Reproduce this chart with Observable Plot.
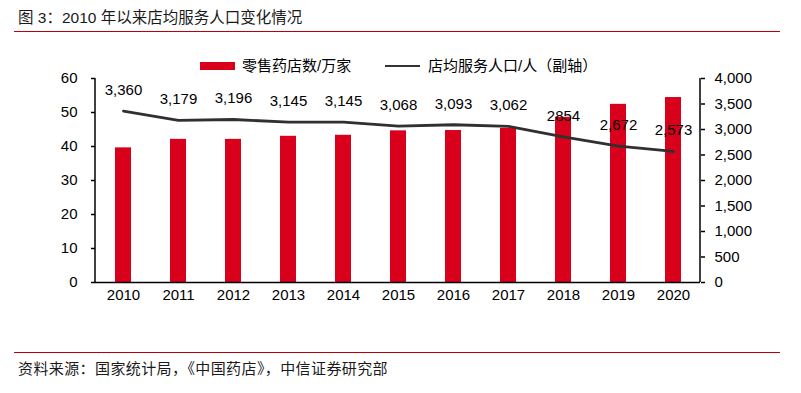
<!DOCTYPE html>
<html><head><meta charset="utf-8">
<script src="https://cdn.jsdelivr.net/npm/d3@7"></script>
<script src="https://cdn.jsdelivr.net/npm/@observablehq/plot@0.6"></script>
<style>
body{margin:0;background:#fff;}
#wrap{position:relative;width:801px;height:393px;font-family:"Liberation Sans","Noto Sans CJK SC",sans-serif;color:#000;overflow:hidden;}
.abs{position:absolute;white-space:nowrap;}
#title{left:18px;top:8px;font-size:15.5px;line-height:20px;color:#1a1a1a;font-family:"Liberation Sans","Noto Sans CJK SC",sans-serif;}
.rule{left:14px;width:766px;height:1px;background:#b8000f;}
#chart{position:absolute;left:0;top:40px;}
.leg{font-size:15px;line-height:20px;font-family:"Liberation Sans","Noto Sans CJK SC",sans-serif;}
#foot{left:18px;top:358px;font-size:15px;line-height:20px;color:#1a1a1a;font-family:"Noto Sans CJK SC","Liberation Sans",sans-serif;letter-spacing:0.4px;}
</style></head>
<body><div id="wrap">
<div id="title" class="abs">图 3：2010 年以来店均服务人口变化情况</div>
<div class="abs rule" style="top:31px"></div>
<div id="chart"></div>
<div class="abs" style="left:200px;top:62px;width:35px;height:8px;background:#d9001b"></div>
<div class="abs leg" style="left:242px;top:56px">零售药店数/万家</div>
<div class="abs" style="left:385px;top:65px;width:35px;height:2px;background:#333"></div>
<div class="abs leg" style="left:428px;top:56px">店均服务人口/人（副轴）</div>
<div class="abs rule" style="top:352px"></div>
<div id="foot" class="abs">资料来源：国家统计局，《中国药店》，中信证券研究部</div>
</div>
<script>
const years = ["2010","2011","2012","2013","2014","2015","2016","2017","2018","2019","2020"];
const stores = [39.6, 42.1, 42.1, 43.0, 43.3, 44.6, 44.7, 45.3, 48.6, 52.4, 54.4];
const perStore = [3360, 3179, 3196, 3145, 3145, 3068, 3093, 3062, 2854, 2672, 2573];
const perStoreLabels = ["3,360","3,179","3,196","3,145","3,145","3,068","3,093","3,062","2854","2,672","2,573"];
const leftTicks = [0,10,20,30,40,50,60];
const rightTicks = [0,500,1000,1500,2000,2500,3000,3500,4000];

const k = 60/4000;
const data = years.map((y,i)=>({year:y, stores:stores[i], per:perStore[i], perY:perStore[i]*k, label:perStoreLabels[i]}));

// vertical axis lines drawn from the plot's own dimensions
const axisLines = (index, scales, values, dim) => {
  const g = document.createElementNS("http://www.w3.org/2000/svg", "g");
  const x0 = dim.marginLeft, x1 = dim.width - dim.marginRight;
  const y0 = dim.marginTop, y1 = dim.height - dim.marginBottom;
  for (const x of [x0, x1]) {
    const l = document.createElementNS("http://www.w3.org/2000/svg", "line");
    l.setAttribute("x1", x); l.setAttribute("x2", x);
    l.setAttribute("y1", y0); l.setAttribute("y2", y1);
    l.setAttribute("stroke", "#000"); l.setAttribute("stroke-width", 1.5);
    g.appendChild(l);
  }
  return g;
};

const chart = Plot.plot({
  width: 801, height: 280,
  marginLeft: 95, marginRight: 101, marginTop: 38, marginBottom: 38,
  style: {fontFamily: '"Liberation Sans", Arial, sans-serif', fontSize: "15px", color: "#000", background: "transparent"},
  x: {domain: years, paddingInner: 0.71, paddingOuter: 0.355, axis: null, label: null},
  y: {domain: [0, 60], axis: null, label: null},
  marks: [
    Plot.barY(data, {x: "year", y: "stores", fill: "#d9001b"}),
    Plot.line(data, {x: "year", y: "perY", stroke: "#303030", strokeWidth: 2.8}),
    Plot.text(data, {x: "year", y: "perY", text: "label", dy: -21, fill: "#000", fontSize: 15}),
    Plot.axisY(leftTicks, {anchor: "left", label: null, tickSize: 4, tickPadding: 14, stroke: "#000", strokeWidth: 1.5, fontSize: 15}),
    Plot.axisY(rightTicks.map(v=>v*k), {anchor: "right", label: null, tickSize: 4, tickPadding: 10, stroke: "#000", strokeWidth: 1.5, fontSize: 15,
      tickFormat: d => d3.format(",")(Math.round(d/k))}),
    Plot.axisX({label: null, tickSize: 0, tickPadding: 7, fontSize: 15}),
    Plot.ruleY([0], {stroke: "#000", strokeWidth: 1.5}),
    axisLines
  ]
});
document.getElementById("chart").appendChild(chart);
</script>
</body></html>
